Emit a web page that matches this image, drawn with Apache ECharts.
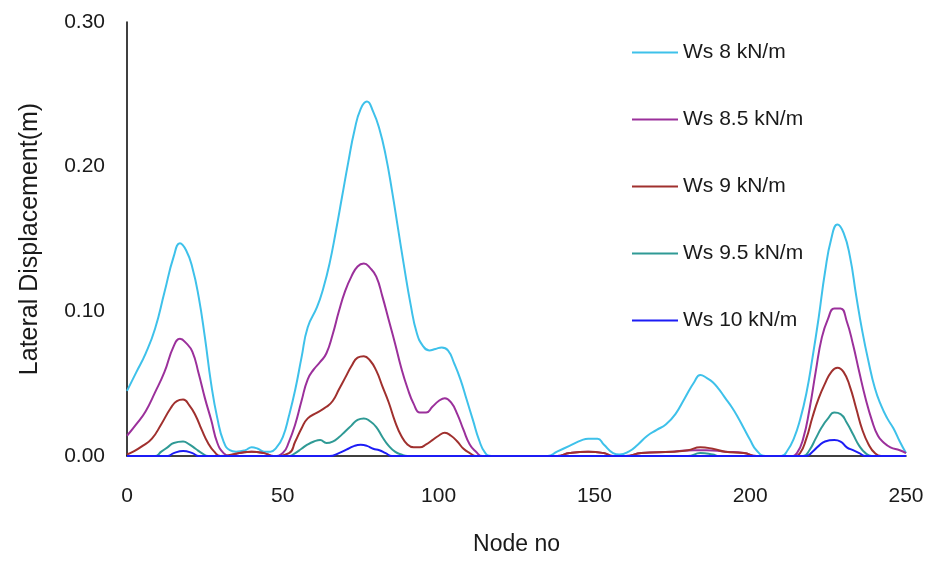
<!DOCTYPE html>
<html>
<head>
<meta charset="utf-8">
<script src="https://cdn.jsdelivr.net/npm/echarts@6/dist/echarts.min.js"></script>
<style>
html,body{margin:0;padding:0;background:#fff;}
#chart{width:944px;height:561px;}
</style>
</head>
<body>
<div id="chart"></div>
<script>
const seriesNames = ['Ws 8 kN/m','Ws 8.5 kN/m','Ws 9 kN/m','Ws 9.5 kN/m','Ws 10 kN/m'];
const yTickLabels = ['0.00','0.10','0.20','0.30'];
const xTickLabels = ['0','50','100','150','200','250'];

const ws8Nodes = [0,3,6,9,12,15,17,19,21,23,25,27,29,31,33,35,38,40,42,44,46,48,50,52,54,56,58,61,63,65,67,69,71,73,75,77,79,81,83,85,87,89,91,93,95,97,99,101,103,105,107,109,111,113,115,117,135,138,142,146,148,151,153,156,158,161,164,167,170,173,176,179,182,184,186,188,190,192,194,196,198,200,202,205,210,212,214,216,218,220,222,224,226,228,230,232,234,236,238,240,242,244,246,248,250];
const ws8Values = [0.045,0.058,0.071,0.088,0.113,0.138,0.147,0.142,0.130,0.110,0.082,0.050,0.026,0.010,0.004,0.003,0.004,0.006,0.005,0.003,0.003,0.006,0.013,0.028,0.046,0.068,0.089,0.103,0.116,0.133,0.155,0.179,0.203,0.225,0.240,0.245,0.238,0.226,0.208,0.184,0.157,0.130,0.105,0.085,0.076,0.073,0.074,0.075,0.073,0.064,0.053,0.039,0.025,0.011,0.002,0,0,0.003,0.007,0.011,0.012,0.012,0.008,0.002,0.001,0.003,0.008,0.014,0.018,0.022,0.029,0.040,0.051,0.056,0.054,0.051,0.046,0.040,0.034,0.027,0.019,0.011,0.004,0,0,0.004,0.012,0.025,0.043,0.068,0.096,0.127,0.150,0.160,0.154,0.138,0.111,0.086,0.065,0.047,0.035,0.026,0.019,0.010,0.002];

const ws85Nodes = [0,3,6,9,12,15,17,19,21,23,25,27,29,31,33,36,40,44,47,50,52,54,56,58,60,62,64,66,68,70,72,74,76,78,80,82,84,86,88,90,92,94,96,98,100,102,104,106,108,110,112,114,138,142,148,153,156,160,165,175,182,186,192,198,202,213,215,217,219,221,223,225,227,229,231,233,235,237,239,241,243,245,248,250];
const ws85Values = [0.014,0.022,0.031,0.044,0.058,0.076,0.081,0.078,0.072,0.057,0.040,0.025,0.009,0.002,0,0.002,0.003,0.002,0,0.002,0.010,0.022,0.038,0.053,0.060,0.065,0.071,0.084,0.100,0.114,0.124,0.131,0.133,0.130,0.124,0.110,0.094,0.078,0.061,0.047,0.036,0.030,0.030,0.034,0.038,0.040,0.037,0.029,0.018,0.008,0.003,0,0,0.002,0.003,0.002,0,0,0.002,0.003,0.004,0.004,0.003,0.002,0,0,0.002,0.012,0.032,0.058,0.082,0.095,0.102,0.102,0.093,0.077,0.058,0.040,0.025,0.014,0.009,0.006,0.004,0.002];

const ws9Nodes = [0,2,5,8,11,14,16,18,20,22,24,26,28,30,36,40,44,47,52,54,56,58,61,64,66,68,70,72,74,76,78,80,82,84,86,88,90,92,94,96,98,100,102,104,106,108,110,112,138,142,148,153,156,160,165,175,180,184,188,192,198,202,214,216,218,220,222,224,226,228,230,232,234,236,238,240,242,250];
const ws9Values = [0.001,0.003,0.007,0.012,0.022,0.033,0.038,0.039,0.035,0.028,0.018,0.009,0.003,0,0.002,0.003,0.002,0,0.002,0.010,0.019,0.026,0.030,0.034,0.038,0.046,0.054,0.062,0.068,0.069,0.066,0.059,0.048,0.037,0.024,0.014,0.008,0.006,0.006,0.008,0.011,0.014,0.016,0.014,0.010,0.005,0.002,0,0,0.002,0.003,0.002,0,0,0.002,0.003,0.004,0.006,0.005,0.003,0.002,0,0,0.002,0.012,0.027,0.040,0.050,0.058,0.061,0.058,0.048,0.033,0.018,0.008,0.002,0,0];

const ws95Nodes = [0,9,11,13,15,18,20,22,24,26,52,54,56,58,60,62,64,66,68,70,72,74,76,78,80,82,84,86,88,90,180,184,188,190,217,219,221,223,225,227,229,231,233,235,237,239,250];
const ws95Values = [0,0,0.003,0.006,0.009,0.010,0.008,0.005,0.002,0,0,0.002,0.005,0.008,0.010,0.011,0.009,0.010,0.013,0.017,0.021,0.025,0.026,0.024,0.020,0.013,0.007,0.003,0.001,0,0,0.002,0.001,0,0,0.004,0.012,0.020,0.026,0.030,0.029,0.023,0.015,0.007,0.002,0,0];

const ws10Nodes = [0,13,15,18,21,23,65,68,71,73,75,77,79,81,83,85,218,220,222,224,227,229,231,233,235,237,250];
const ws10Values = [0,0,0.002,0.0035,0.002,0,0,0.002,0.005,0.007,0.0077,0.007,0.005,0.004,0.002,0,0,0.003,0.007,0.010,0.011,0.010,0.006,0.004,0.002,0,0];

const seriesNodes = [ws8Nodes, ws85Nodes, ws9Nodes, ws95Nodes, ws10Nodes];
const seriesValues = [ws8Values, ws85Values, ws9Values, ws95Values, ws10Values];
const seriesColors = ['#3ec1ea','#9b309b','#a0302e','#2f9a95','#1c1cf5'];

const font = '"Liberation Sans", Arial, sans-serif';
const chart = echarts.init(document.getElementById('chart'), null, {renderer:'canvas'});

const series = seriesNames.map((name, i) => ({
  name: name,
  type: 'line',
  data: seriesNodes[i].map((n, j) => [n, seriesValues[i][j]]),
  smooth: 0.5,
  symbol: 'none',
  showSymbol: false,
  lineStyle: {color: seriesColors[i], width: 2},
  itemStyle: {color: seriesColors[i]},
  z: 2 + i,
  animation: false
}));

chart.setOption({
  backgroundColor: '#ffffff',
  animation: false,
  grid: {left: 127, right: 38, top: 22, bottom: 105, containLabel: false},
  legend: {
    orient: 'vertical',
    left: 627,
    top: 37,
    icon: 'rect',
    itemWidth: 46,
    itemHeight: 2,
    itemGap: 46,
    textStyle: {fontFamily: font, fontSize: 21, color: '#1a1a1a'},
    data: seriesNames
  },
  xAxis: {
    type: 'value',
    min: 0, max: 250, interval: 50,
    name: 'Node no',
    nameLocation: 'middle',
    nameGap: 77,
    nameTextStyle: {fontFamily: font, fontSize: 23, color: '#1a1a1a'},
    axisLine: {show: true, lineStyle: {color: '#000', width: 1.5}},
    axisTick: {show: false},
    splitLine: {show: false},
    axisLabel: {
      margin: 30, fontFamily: font, fontSize: 21, color: '#1a1a1a',
      formatter: (v) => xTickLabels[Math.round(v / 50)]
    }
  },
  yAxis: {
    type: 'value',
    min: 0, max: 0.3, interval: 0.1,
    name: 'Lateral Displacement(m)',
    nameLocation: 'middle',
    nameGap: 84,
    nameRotate: 90,
    nameTextStyle: {fontFamily: font, fontSize: 25, color: '#1a1a1a'},
    axisLine: {show: true, lineStyle: {color: '#000', width: 1.5}},
    axisTick: {show: false},
    splitLine: {show: false},
    axisLabel: {
      margin: 22, fontFamily: font, fontSize: 21, color: '#1a1a1a',
      formatter: (v) => yTickLabels[Math.round(v * 10)]
    }
  },
  series: series
});
</script>
</body>
</html>
